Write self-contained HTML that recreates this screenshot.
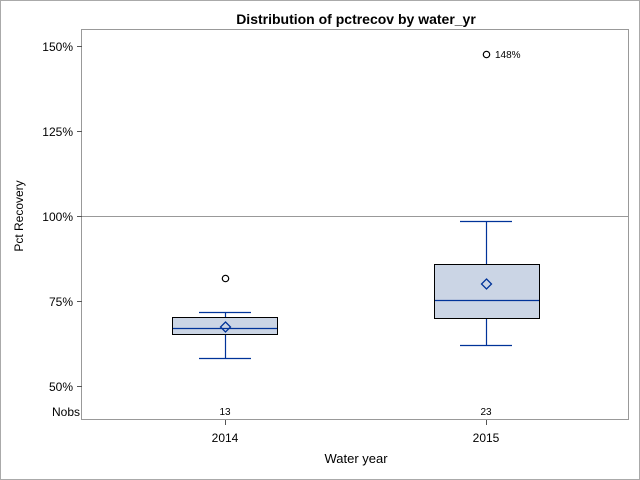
<!DOCTYPE html><html><head><style>body{margin:0}svg{display:block}text{font-family:"Liberation Sans",Arial,sans-serif}</style></head><body>
<svg width="640" height="480" viewBox="0 0 640 480" xmlns="http://www.w3.org/2000/svg">
<rect x="0.5" y="0.5" width="639" height="479" fill="#fff" stroke="#aaa"/>
<text x="356" y="24" font-size="14" font-weight="bold" text-anchor="middle">Distribution of pctrecov by water_yr</text>
<rect x="81.5" y="29.5" width="547" height="390" fill="none" stroke="#999"/>
<line x1="82" y1="216.5" x2="628" y2="216.5" stroke="#999"/>
<g stroke="#555"><line x1="77" y1="46.5" x2="82" y2="46.5"/><line x1="77" y1="131.5" x2="82" y2="131.5"/><line x1="77" y1="216.5" x2="82" y2="216.5"/><line x1="77" y1="301.5" x2="82" y2="301.5"/><line x1="77" y1="386.5" x2="82" y2="386.5"/>
<line x1="225.5" y1="420" x2="225.5" y2="425"/><line x1="486.5" y1="420" x2="486.5" y2="425"/></g>
<g font-size="12" text-anchor="end"><text x="73" y="51">150%</text><text x="73" y="136">125%</text><text x="73" y="221">100%</text><text x="73" y="306">75%</text><text x="73" y="391">50%</text><text x="80" y="416">Nobs</text></g>
<text x="23" y="216" font-size="12" text-anchor="middle" transform="rotate(-90 23 216)">Pct Recovery</text>
<g font-size="12" text-anchor="middle"><text x="225" y="442">2014</text><text x="486" y="442">2015</text><text x="356" y="463" font-size="13">Water year</text></g>
<g font-size="10" text-anchor="middle"><text x="225" y="415">13</text><text x="486" y="415">23</text></g>
<g stroke="#003399" stroke-width="1.2" fill="none">
<line x1="225.5" y1="312" x2="225.5" y2="358"/><line x1="199" y1="312.5" x2="251" y2="312.5"/><line x1="199" y1="358.5" x2="251" y2="358.5"/>
<line x1="486.5" y1="221" x2="486.5" y2="345"/><line x1="460" y1="221.5" x2="512" y2="221.5"/><line x1="460" y1="345.5" x2="512" y2="345.5"/>
</g>
<rect x="172.5" y="317.5" width="105" height="17" fill="#cbd5e5" stroke="#000"/>
<rect x="434.5" y="264.5" width="105" height="54" fill="#cbd5e5" stroke="#000"/>
<g stroke="#003399" stroke-width="1.3" fill="none">
<line x1="173" y1="328.5" x2="277" y2="328.5"/><line x1="435" y1="300.5" x2="539" y2="300.5"/>
<path d="M225.5 322l5 5-5 5-5-5z"/><path d="M486.5 279l5 5-5 5-5-5z"/>
</g>
<g fill="none" stroke="#000" stroke-width="1.2"><circle cx="225.5" cy="278.5" r="3.2"/><circle cx="486.5" cy="54.5" r="3.2"/></g>
<text x="495" y="58" font-size="10">148%</text>
</svg></body></html>
